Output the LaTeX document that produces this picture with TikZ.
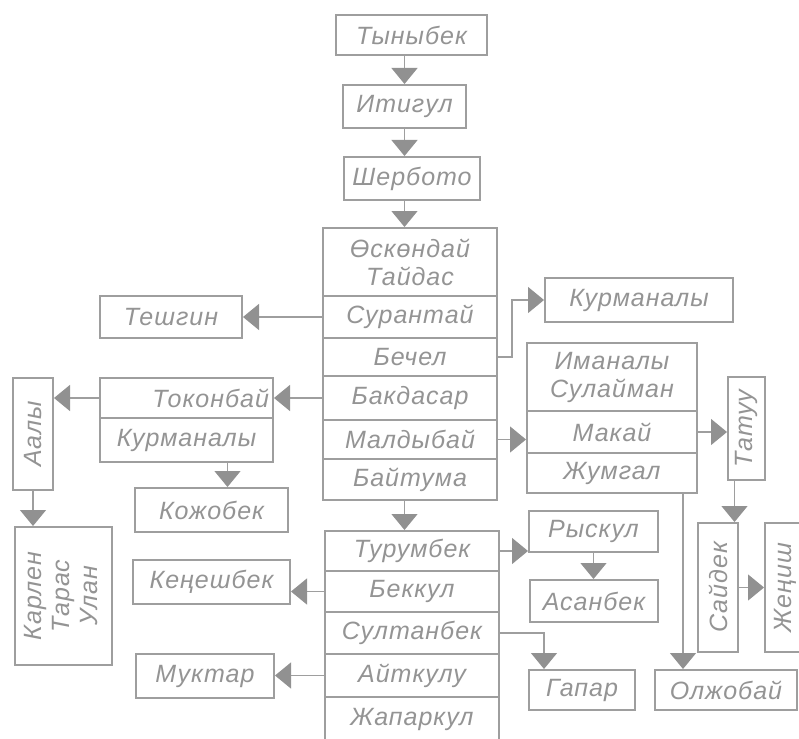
\documentclass[tikz,border=0pt]{standalone}
\usepackage{fontspec}
\usepackage{graphicx}
\usetikzlibrary{arrows.meta}
\newfontfamily\nf{Liberation Sans}[LetterSpace=4]
\definecolor{lc}{RGB}{158,158,158}
\definecolor{tc}{RGB}{148,148,148}
\definecolor{ac}{RGB}{145,145,145}
\begin{document}
\begin{tikzpicture}[x=1pt,y=-1pt,
  bx/.style={draw=lc, line width=2pt, inner sep=0pt, text=tc,
    font=\nf\itshape\fontsize{25}{28}\selectfont, align=center},
  sz/.style 2 args={minimum width=#1pt, minimum height=#2pt},
  conn/.style={draw=lc, line width=1.2pt, -{Triangle[length=16pt,width=26pt,color=ac]}}]
\useasboundingbox[fill=white] (0,0) rectangle (799,738);

% top chain
\node[bx, sz={151}{40}] (tyn) at (411.5,35) {Тыныбек};
\node[bx, sz={123}{43}] (iti) at (404.5,106.5) {Итигул};
\node[bx, sz={136}{43}] (sher) at (412,178.5) {Шербото};

% main upper box
\node[bx, sz={174}{68}] (osk) at (410,262) {Өскөндай\\Тайдас};
\node[bx, sz={174}{42}] (sur) at (410,317) {Сурантай};
\node[bx, sz={174}{38}] (bech) at (410,357) {Бечел};
\node[bx, sz={174}{44}] (bak) at (410,398) {Бакдасар};
\node[bx, sz={174}{39}] (mal) at (410,439.5) {Малдыбай};
\node[bx, sz={174}{41}] (bay) at (410,479.5) {Байтума};

% main lower box
\node[bx, sz={174}{40}] (tur) at (412,551) {Турумбек};
\node[bx, sz={174}{41}] (bek) at (412,591.5) {Беккул};
\node[bx, sz={174}{42}] (sul) at (412,633) {Султанбек};
\node[bx, sz={174}{43}] (ayt) at (412,675.5) {Айткулу};
\node[bx, sz={174}{45}] (zhap) at (412,719.5) {Жапаркул};

% left side
\node[bx, sz={142}{42}] (tesh) at (171,317) {Тешгин};
\node[bx, sz={173}{40}, text width=165pt, align=right] (tok) at (186.5,398) {Токонбай};
\node[bx, sz={173}{44}] (kur2) at (186.5,440) {Курманалы};
\node[bx, sz={40}{112}] (aaly) at (33,434) {\rotatebox{90}{Аалы}};
\node[bx, sz={97}{138}] (karl) at (63.5,596) {\rotatebox{90}{\begin{tabular}{@{}c@{}}Карлен\\Тарас\\Улан\end{tabular}}};
\node[bx, sz={153}{44}] (kozh) at (211.5,510) {Кожобек};
\node[bx, sz={157}{44}] (ken) at (211.5,582) {Кеңешбек};
\node[bx, sz={138}{44}] (muk) at (205,676) {Муктар};

% right side
\node[bx, sz={188}{44}] (kurm) at (639,300) {Курманалы};
\node[bx, sz={170}{68}] (ima) at (612,377) {Иманалы\\Сулайман};
\node[bx, sz={170}{42}] (mak) at (612,432) {Макай};
\node[bx, sz={170}{40}] (jum) at (612,473) {Жумгал};
\node[bx, sz={37}{103}] (tat) at (746.5,428.5) {\rotatebox{90}{Татуу}};
\node[bx, sz={40}{129}] (said) at (718,587.5) {\rotatebox{90}{Сайдек}};
\node[bx, sz={40}{129}] (zhen) at (785,587.5) {\rotatebox{90}{Жеңиш}};
\node[bx, sz={129}{41}] (rys) at (593.5,531.5) {Рыскул};
\node[bx, sz={128}{42}] (asan) at (594,601) {Асанбек};
\node[bx, sz={106}{40}] (gap) at (582,690) {Гапар};
\node[bx, sz={142}{40}] (olzh) at (726,690) {Олжобай};

% connectors
\draw[conn] (tyn.south -| iti.north) -- (iti.north);
\draw[conn] (iti.south) -- (iti.south |- sher.north);
\draw[conn] (iti.south |- sher.south) -- (iti.south |- osk.north);
\draw[conn] (iti.south |- bay.south) -- (iti.south |- tur.north);
\draw[conn] (sur.west) -- (sur.west -| tesh.east);
\draw[conn] (bech.east) -- ++(14,0) |- (kurm.west);
\draw[conn] (bak.west) -- (bak.west -| tok.east);
\draw[conn] (mal.east) -- (mal.east -| mak.west);
\draw[conn] (mak.east) -- (mak.east -| tat.west);
\draw[conn] ([xshift=-12pt]tat.south) -- ([xshift=-12pt]tat.south |- said.north);
\draw[conn] (said.east) -- (said.east -| zhen.west);
\draw[conn] ([xshift=71pt]jum.south) -- ([xshift=71pt]jum.south |- olzh.north);
\draw[conn] (tok.west) -- (tok.west -| aaly.east);
\draw[conn] (aaly.south) -- (aaly.south |- karl.north);
\draw[conn] ([xshift=41pt]kur2.south) -- ([xshift=41pt]kur2.south |- kozh.north);
\draw[conn] (bek.west) -- (bek.west -| ken.east);
\draw[conn] (ayt.west) -- (ayt.west -| muk.east);
\draw[conn] (tur.east) -- (tur.east -| rys.west);
\draw[conn] (rys.south) -- (rys.south |- asan.north);
\draw[conn] (sul.east) -| ([xshift=-38pt]gap.north);
\end{tikzpicture}
\end{document}
